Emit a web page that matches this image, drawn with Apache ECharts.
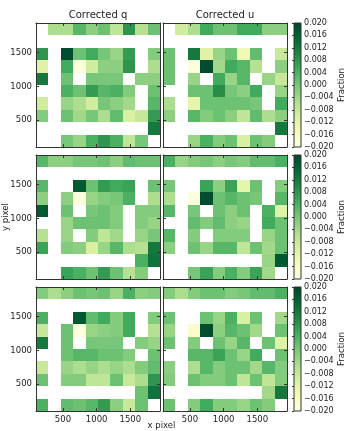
<!DOCTYPE html>
<html>
<head>
<meta charset="utf-8">
<script src="https://cdn.jsdelivr.net/npm/echarts@6/dist/echarts.min.js"></script>
<style>
  html, body { margin: 0; padding: 0; background: #fff; }
  #chart { width: 352px; height: 431px; }
</style>
</head>
<body>
<div id="chart"></div>
<script>
// bin centres (detector pixels); rows listed top first
const xCenters = [192, 376, 560, 744, 928, 1112, 1296, 1480, 1664, 1848];
const yCenters = [1848, 1664, 1480, 1296, 1112, 928, 744, 560, 376, 192];
const tickValues = [500, 1000, 1500];
const cbarMin = -0.02;
const cbarMax = 0.02;
const cbarStep = 0.004;

const _ = null;
const E = [_, _, _, _, _, _, _, _, _, _];

const qTop = [
  [_, -0.005, -0.005, 0.003, -0.002, 0.001, -0.007, 0.008, -0.006, 0.001],
  E,
  [0.008, _, 0.019, 0.001, 0.005, 0.000, -0.003, 0.007, _, -0.001],
  [-0.011, _, 0.005, -0.019, -0.009, -0.002, -0.002, 0.008, _, -0.005],
  [0.012, _, 0.001, _, 0.000, 0.000, 0.000, _, -0.002, -0.002],
  [_, _, 0.004, 0.001, 0.007, 0.003, 0.004, -0.001, _, 0.001],
  [-0.009, _, -0.003, -0.005, -0.009, 0.000, -0.002, -0.004, _, 0.003],
  [-0.001, _, 0.001, -0.004, 0.000, -0.005, 0.002, -0.010, -0.008, 0.007],
  [_, _, _, _, _, _, _, _, _, 0.012],
  [_, _, 0.000, -0.003, 0.004, 0.008, 0.004, -0.007, 0.000, _]
];
const uTop = [
  [_, -0.009, -0.005, 0.005, 0.001, 0.001, 0.005, 0.005, -0.002, -0.002],
  E,
  [0.001, _, 0.012, -0.011, -0.003, 0.001, -0.014, 0.002, _, -0.008],
  [0.001, _, -0.019, 0.019, -0.004, 0.005, 0.003, -0.006, _, -0.002],
  [0.001, _, -0.003, _, 0.005, -0.003, 0.003, _, -0.003, -0.008],
  [_, _, 0.001, 0.001, 0.009, 0.000, -0.002, 0.005, _, -0.003],
  [-0.005, _, -0.012, 0.001, 0.001, 0.001, 0.001, 0.000, _, 0.005],
  [-0.002, _, 0.003, -0.001, 0.001, -0.002, -0.007, 0.002, -0.005, -0.002],
  [_, _, _, _, _, _, _, _, _, 0.012],
  [_, _, -0.003, 0.004, -0.001, 0.001, -0.010, 0.001, -0.001, _]
];
const qMid = [
  [0.003, -0.002, -0.002, 0.000, 0.000, 0.001, -0.002, 0.002, 0.001, 0.001],
  E,
  [0.003, _, _, 0.017, 0.001, 0.007, 0.005, 0.006, _, 0.001],
  [-0.002, _, -0.002, -0.019, -0.003, -0.001, 0.000, 0.004, _, -0.005],
  [0.017, _, 0.001, _, 0.000, 0.001, -0.001, _, -0.001, -0.001],
  [_, _, -0.003, 0.001, 0.001, 0.001, -0.001, _, -0.001, -0.003],
  [-0.006, _, -0.003, _, -0.001, -0.007, -0.004, _, -0.003, 0.000],
  [0.006, _, -0.001, -0.002, -0.010, -0.003, 0.003, -0.005, -0.006, 0.012],
  [_, _, _, _, _, _, _, _, 0.004, 0.013],
  [_, _, 0.006, 0.004, 0.001, 0.007, 0.001, -0.006, -0.001, _]
];
const uMid = [
  [0.004, -0.003, -0.001, 0.000, -0.002, 0.000, -0.001, 0.002, 0.002, 0.004],
  E,
  [0.000, _, _, 0.006, -0.002, 0.006, -0.012, 0.001, _, -0.001],
  [-0.005, _, -0.019, 0.019, 0.001, 0.003, 0.001, 0.000, _, 0.003],
  [0.003, _, 0.000, _, 0.001, -0.002, 0.001, _, 0.004, -0.011],
  [_, _, 0.002, -0.001, 0.002, -0.002, -0.003, _, 0.005, 0.001],
  [0.003, _, -0.001, _, -0.001, -0.001, -0.001, _, -0.003, 0.001],
  [-0.002, _, 0.001, -0.003, 0.003, 0.003, -0.007, 0.001, -0.004, 0.001],
  [_, _, _, _, _, _, _, _, -0.003, 0.017],
  [_, _, 0.000, 0.006, -0.001, 0.004, -0.001, 0.006, -0.004, _]
];
const qBot = [
  [-0.001, -0.005, -0.002, 0.001, 0.000, 0.001, -0.003, 0.004, -0.002, -0.001],
  E,
  [0.004, _, _, 0.017, 0.002, 0.005, -0.001, 0.005, _, -0.001],
  [-0.008, _, 0.001, -0.019, -0.003, -0.002, -0.001, 0.005, _, -0.006],
  [0.012, _, 0.001, _, 0.000, 0.000, 0.000, _, -0.001, -0.003],
  [_, _, 0.001, 0.003, 0.003, 0.001, 0.001, -0.001, _, 0.001],
  [-0.008, _, -0.003, -0.005, -0.003, -0.005, -0.003, -0.005, -0.001, 0.002],
  [0.001, _, -0.001, -0.001, -0.007, -0.007, 0.001, -0.008, -0.005, 0.008],
  [_, _, _, _, _, _, _, _, 0.001, 0.013],
  [0.004, _, 0.002, 0.001, 0.003, 0.007, -0.002, -0.008, 0.001, _]
];
const uBot = [
  [-0.001, -0.005, -0.001, 0.001, 0.001, -0.001, 0.000, 0.002, 0.002, 0.004],
  E,
  [0.001, _, _, 0.001, -0.003, 0.004, -0.010, 0.001, _, -0.004],
  [-0.003, _, -0.017, 0.019, -0.002, 0.003, 0.001, -0.004, _, 0.001],
  [0.001, _, -0.001, _, 0.001, -0.003, 0.003, _, 0.001, -0.011],
  [_, _, 0.003, 0.003, 0.006, 0.001, -0.003, 0.005, _, 0.001],
  [-0.002, _, -0.005, 0.003, -0.001, 0.001, 0.001, -0.004, 0.003, -0.001],
  [-0.001, _, 0.001, -0.001, -0.001, 0.001, -0.007, 0.001, -0.007, -0.001],
  [_, _, _, _, _, _, _, _, -0.004, 0.012],
  [0.001, _, -0.001, 0.005, -0.001, -0.001, -0.003, 0.001, -0.001, _]
];

const panels = [qTop, uTop, qMid, uMid, qBot, uBot];
const titles = ['Corrected q', 'Corrected u'];

// layout
const FONT = 'DejaVu Sans';
const YLGN = ['#ffffe5', '#f7fcb9', '#d9f0a3', '#addd8e', '#78c679', '#41ab5d', '#238443', '#006837', '#004529'];
const panelLeft = [36, 163];
const panelTop = [23, 155, 287];
const panelSize = 124;
const cbarLeft = 294;
const cbarWidth = 7;
const frameColor = '#333';
const textColor = '#222';

const halfX = (xCenters[1] - xCenters[0]) / 2;
const halfY = (yCenters[0] - yCenters[1]) / 2;
const xMin = xCenters[0] - halfX, xMax = xCenters[xCenters.length - 1] + halfX;
const yMin = yCenters[yCenters.length - 1] - halfY, yMax = yCenters[0] + halfY;

function cellPoints(rows) {
  const pts = [];
  rows.forEach((row, r) => {
    row.forEach((v, c) => {
      if (v !== null) pts.push([xCenters[c], yCenters[r], v]);
    });
  });
  return pts;
}

function renderCell(params, api) {
  const x = api.value(0), y = api.value(1);
  const p0 = api.coord([x - halfX, y + halfY]);
  const p1 = api.coord([x + halfX, y - halfY]);
  const x0 = Math.round(p0[0]), y0 = Math.round(p0[1]);
  const x1 = Math.round(p1[0]), y1 = Math.round(p1[1]);
  return {
    type: 'rect',
    shape: { x: x0, y: y0, width: x1 - x0, height: y1 - y0 },
    style: { fill: api.visual('color') }
  };
}

function renderColorbar(params, api) {
  const p0 = api.coord([api.value(0), api.value(3)]);
  const p1 = api.coord([api.value(2), api.value(1)]);
  const stops = YLGN.map((c, i) => ({ offset: i / (YLGN.length - 1), color: c }));
  return {
    type: 'rect',
    shape: { x: p0[0], y: p0[1], width: p1[0] - p0[0], height: p1[1] - p0[1] },
    style: {
      fill: new echarts.graphic.LinearGradient(0, 1, 0, 0, stops),
      stroke: frameColor,
      lineWidth: 1
    }
  };
}

function panelAxis(gridIndex, position, min, max, showLabels) {
  return {
    type: 'value',
    gridIndex: gridIndex,
    position: position,
    min: min,
    max: max,
    z: 5,
    axisLine: { show: true, lineStyle: { color: frameColor, width: 1 } },
    axisTick: {
      show: true, inside: true, length: 3, customValues: tickValues,
      lineStyle: { color: frameColor }
    },
    axisLabel: {
      show: showLabels, customValues: tickValues, margin: 4,
      formatter: v => String(v),
      fontSize: 8.5, fontFamily: FONT, color: textColor
    },
    splitLine: { show: false }
  };
}

const grid = [], xAxis = [], yAxis = [], series = [];

panels.forEach((rows, i) => {
  const r = Math.floor(i / 2), c = i % 2;
  grid.push({ left: panelLeft[c], top: panelTop[r], width: panelSize, height: panelSize });
  xAxis.push(panelAxis(i, 'bottom', xMin, xMax, r === 2));
  xAxis.push(panelAxis(i, 'top', xMin, xMax, false));
  yAxis.push(panelAxis(i, 'left', yMin, yMax, c === 0));
  yAxis.push(panelAxis(i, 'right', yMin, yMax, false));
  series.push({
    type: 'custom',
    xAxisIndex: 2 * i,
    yAxisIndex: 2 * i,
    renderItem: renderCell,
    encode: { x: 0, y: 1 },
    data: cellPoints(rows),
    silent: true,
    z: 1
  });
});

panelTop.forEach((top, k) => {
  const g = panels.length + k;
  grid.push({ left: cbarLeft, top: top, width: cbarWidth, height: panelSize });
  xAxis.push({ type: 'value', gridIndex: g, min: 0, max: 1, show: false });
  yAxis.push({
    type: 'value',
    gridIndex: g,
    position: 'right',
    min: cbarMin,
    max: cbarMax,
    interval: cbarStep,
    z: 5,
    axisLine: { show: false },
    axisTick: { show: true, inside: true, length: 2, lineStyle: { color: frameColor } },
    axisLabel: {
      margin: 3, fontSize: 8, fontFamily: FONT, color: textColor,
      formatter: v => Math.abs(v) < 1e-9 ? '0.000' : (v < 0 ? '\u2212' : '') + Math.abs(v).toFixed(3)
    },
    splitLine: { show: false },
    name: 'Fraction',
    nameLocation: 'middle',
    nameRotate: 90,
    nameGap: 35,
    nameTextStyle: { fontSize: 8.5, fontFamily: FONT, color: textColor }
  });
  series.push({
    type: 'custom',
    xAxisIndex: 2 * panels.length + k,
    yAxisIndex: 2 * panels.length + k,
    renderItem: renderColorbar,
    encode: { x: [0, 2], y: [1, 3] },
    data: [[0, cbarMin, 1, cbarMax]],
    silent: true
  });
});

const graphic = [
  ...titles.map((t, c) => ({
    type: 'text', x: panelLeft[c] + panelSize / 2, y: 15,
    style: { text: t, align: 'center', verticalAlign: 'middle', fontSize: 10, fontFamily: FONT, fill: textColor }
  })),
  {
    type: 'text', x: (panelLeft[0] + panelLeft[1] + panelSize) / 2, y: 426,
    style: { text: 'x pixel', align: 'center', verticalAlign: 'middle', fontSize: 8.5, fontFamily: FONT, fill: textColor }
  },
  {
    type: 'text', x: 6, y: (panelTop[0] + panelTop[2] + panelSize) / 2, rotation: Math.PI / 2,
    style: { text: 'y pixel', align: 'center', verticalAlign: 'middle', fontSize: 8.5, fontFamily: FONT, fill: textColor }
  }
];

const chart = echarts.init(document.getElementById('chart'));
chart.setOption({
  backgroundColor: '#fff',
  animation: false,
  grid: grid,
  xAxis: xAxis,
  yAxis: yAxis,
  visualMap: [{
    type: 'continuous',
    show: false,
    min: cbarMin,
    max: cbarMax,
    dimension: 2,
    seriesIndex: [0, 1, 2, 3, 4, 5],
    inRange: { color: YLGN }
  }],
  graphic: graphic,
  series: series
});
</script>
</body>
</html>
